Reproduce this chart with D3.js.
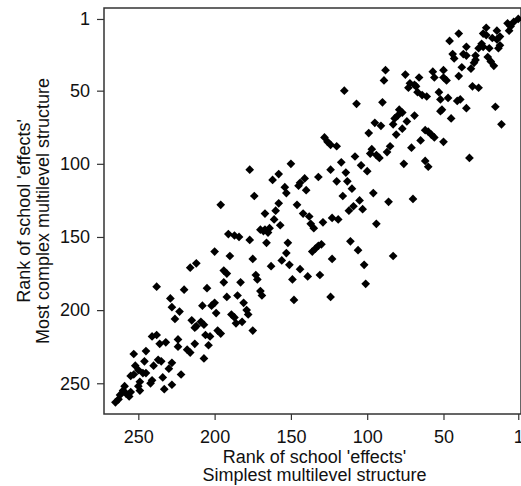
<!DOCTYPE html>
<html>
<head>
<meta charset="utf-8">
<script src="https://cdn.jsdelivr.net/npm/d3@7"></script>
<style>
  body { margin: 0; background: #fff; }
  text { font-family: "Liberation Sans", Arial, sans-serif; fill: #111; }
</style>
</head>
<body>
<div id="chart"></div>
<script>

// rank of each school under the simplest model (x) and most complex model (y)
const simplestRank = [
  1, 4, 6, 8, 7, 22, 15, 40, 13, 15, 18, 22, 24, 46, 25, 27, 24, 20, 35, 13,
  14, 44, 43, 37, 35, 29, 29, 30, 32, 21, 19, 17, 38, 50, 57, 56, 66, 75, 50, 40,
  72, 69, 73, 68, 31, 27, 67, 64, 61, 53, 52, 47, 41, 39, 35, 52, 51, 16, 79, 80,
  82, 77, 69, 45, 12, 74, 62, 60, 58, 56, 65, 50, 88, 89, 48, 115, 107, 90, 95, 91,
  83, 77, 81, 99, 128, 126, 124, 120, 97, 98, 85, 87, 71, 94, 92, 108, 33, 117, 104, 76,
  62, 60, 100, 124, 114, 113, 120, 110, 96, 150, 177, 158, 162, 132, 141, 144, 145, 154, 153, 140,
  174, 116, 158, 146, 86, 70, 105, 109, 112, 103, 160, 167, 142, 138, 161, 123, 119, 129, 137, 135,
  94, 170, 167, 165, 168, 164, 157, 177, 166, 152, 136, 134, 132, 130, 111, 106, 175, 153, 123, 83,
  163, 156, 151, 144, 102, 196, 191, 187, 184, 200, 190, 216, 212, 194, 192, 173, 172, 139, 131, 149,
  183, 194, 220, 205, 170, 169, 124, 148, 192, 185, 229, 228, 208, 202, 200, 199, 181, 179, 178, 223,
  189, 187, 186, 182, 226, 215, 212, 209, 207, 213, 198, 196, 175, 206, 203, 238, 241, 238, 224, 236,
  232, 213, 224, 204, 218, 216, 253, 245, 207, 246, 237, 235, 228, 252, 240, 230, 250, 247, 245, 222,
  255, 253, 241, 242, 234, 249, 250, 249, 228, 233, 259, 260, 258, 255, 256, 262, 263, 265, 101
];
const complexRank = [
  1, 3, 6, 4, 9, 7, 9, 11, 13, 15, 14, 12, 11, 16, 18, 21, 20, 21, 20, 19,
  21, 25, 28, 25, 26, 26, 29, 31, 35, 27, 30, 33, 34, 36, 37, 41, 41, 39, 41, 40,
  45, 46, 48, 47, 47, 48, 51, 53, 54, 51, 56, 55, 57, 56, 62, 64, 63, 61, 63, 67,
  69, 65, 67, 69, 73, 71, 77, 78, 80, 82, 84, 85, 36, 43, 43, 50, 59, 58, 72, 74,
  73, 76, 80, 79, 82, 85, 87, 88, 90, 93, 88, 92, 89, 94, 96, 95, 96, 99, 101, 100,
  98, 102, 105, 104, 106, 112, 112, 117, 120, 100, 104, 107, 111, 109, 110, 113, 115, 116, 120, 118,
  122, 122, 127, 128, 126, 124, 125, 129, 132, 131, 132, 134, 134, 136, 138, 137, 138, 140, 141, 144,
  141, 145, 145, 147, 146, 144, 142, 152, 154, 154, 160, 158, 156, 155, 153, 159, 165, 161, 165, 163,
  170, 166, 169, 172, 169, 128, 148, 149, 150, 160, 163, 171, 168, 173, 175, 176, 179, 177, 176, 179,
  181, 181, 186, 185, 187, 190, 191, 193, 191, 190, 192, 198, 197, 197, 195, 202, 195, 200, 203, 201,
  203, 205, 209, 208, 206, 207, 211, 208, 210, 212, 214, 216, 214, 217, 218, 184, 218, 217, 220, 223,
  222, 223, 225, 224, 227, 229, 230, 228, 233, 235, 234, 235, 236, 238, 238, 240, 241, 243, 243, 244,
  245, 244, 248, 250, 246, 249, 252, 255, 251, 254, 252, 255, 257, 256, 259, 258, 261, 263, 182
];

const rankTicks = [1, 50, 100, 150, 200, 250];
const xTitle = ["Rank of school 'effects'", "Simplest multilevel structure"];
const yTitle = ["Rank of school 'effects'", "Most complex multilevel structure"];

const width = 521, height = 486;
const plot = {left: 104, right: 521, top: 8, bottom: 414};

const svg = d3.select("#chart").append("svg")
  .attr("width", width)
  .attr("height", height);

// both axes run from worst rank to best rank
const x = d3.scaleLinear()
  .domain([272.5, -0.8])
  .range([plot.left, plot.right]);

const y = d3.scaleLinear()
  .domain([-6.5, 271])
  .range([plot.top, plot.bottom]);

const xAxis = d3.axisBottom(x)
  .tickValues(rankTicks)
  .tickSize(6)
  .tickPadding(10.5)
  .tickFormat(d3.format("d"));

const yAxis = d3.axisLeft(y)
  .tickValues(rankTicks)
  .tickSize(7)
  .tickPadding(7)
  .tickFormat(d3.format("d"));

const gx = svg.append("g")
  .attr("transform", "translate(0," + plot.bottom + ")")
  .call(xAxis);

const gy = svg.append("g")
  .attr("transform", "translate(" + plot.left + ",0)")
  .call(yAxis);

[gx, gy].forEach(function(g) {
  g.select(".domain").remove();
  g.selectAll(".tick line").attr("stroke", "#333").attr("stroke-width", 1.2);
  g.selectAll(".tick text")
    .attr("fill", "#111")
    .style("font-size", "18px")
    .style("font-family", "'Liberation Sans', Arial, sans-serif");
});

// plot frame
svg.append("rect")
  .attr("x", x(272.5))
  .attr("y", y(-6.5))
  .attr("width", x(-0.8) - x(272.5))
  .attr("height", y(271) - y(-6.5))
  .attr("fill", "none")
  .attr("stroke", "#333")
  .attr("stroke-width", 1.5);

const points = simplestRank.map(function(d, i) {
  return {simple: d, complex: complexRank[i]};
});

const diamond = d3.symbol().type(d3.symbolSquare).size(38);

svg.append("g")
  .selectAll("path")
  .data(points)
  .enter().append("path")
    .attr("d", diamond)
    .attr("transform", function(d) {
      return "translate(" + x(d.simple) + "," + y(d.complex) + ") rotate(45)";
    })
    .attr("fill", "#000");

// axis titles
const xMid = (plot.left + plot.right) / 2 + 2;
svg.append("g").selectAll("text")
  .data(xTitle)
  .enter().append("text")
    .attr("x", xMid)
    .attr("y", function(d, i) { return 462.5 + i * 18.5; })
    .attr("text-anchor", "middle")
    .style("font-size", "18px")
    .text(function(d) { return d; });

const yMid = (plot.top + plot.bottom) / 2;
svg.append("g").selectAll("text")
  .data(yTitle)
  .enter().append("text")
    .attr("transform", function(d, i) {
      return "translate(" + (30 + i * 18.5) + "," + yMid + ") rotate(-90)";
    })
    .attr("text-anchor", "middle")
    .style("font-size", "18px")
    .text(function(d) { return d; });

</script>
</body>
</html>
